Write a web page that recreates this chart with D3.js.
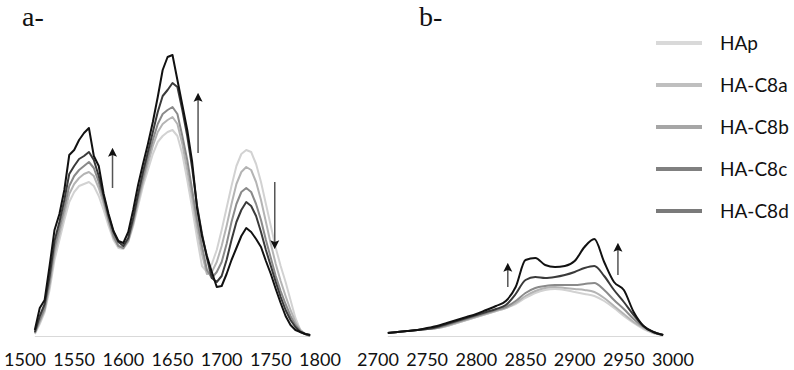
<!DOCTYPE html>
<html>
<head>
<meta charset="utf-8">
<script src="https://cdn.jsdelivr.net/npm/d3@7/dist/d3.min.js"></script>
<style>
  body { margin: 0; background: #fff; }
  svg { display: block; }
</style>
</head>
<body>
<div id="chart"></div>
<script>
// ---- data ----
const seriesNames = ["HAp", "HA-C8a", "HA-C8b", "HA-C8c", "HA-C8d"];

const tickLabelsA = [1500, 1550, 1600, 1650, 1700, 1750, 1800];
const tickLabelsB = [2700, 2750, 2800, 2850, 2900, 2950, 3000];

// panel a: 1510 - 1790 cm-1
const wavenumbersA = [
  1510, 1515, 1520, 1525, 1530, 1535, 1540, 1545, 1550, 1555, 1560, 1565,
  1570, 1575, 1580, 1585, 1590, 1595, 1600, 1605, 1610, 1615, 1620, 1625,
  1630, 1635, 1640, 1645, 1650, 1655, 1660, 1665, 1670, 1675, 1680, 1685,
  1690, 1695, 1700, 1705, 1710, 1715, 1720, 1725, 1730, 1735, 1740, 1745,
  1750, 1755, 1760, 1765, 1770, 1775, 1780, 1785, 1790
];
const hapA = [
  2, 12, 24, 46, 76, 96, 116, 134, 144, 150, 152, 154,
  150, 140, 126, 110, 96, 88, 87, 94, 110, 130, 150, 166,
  182, 194, 200, 204, 206, 200, 182, 156, 128, 98, 70, 64,
  72, 86, 106, 128, 150, 170, 182, 186, 184, 172, 154, 132,
  110, 88, 70, 54, 36, 18, 6, 2, 0
];
const c8aA = [
  3, 14, 26, 50, 82, 102, 122, 142, 152, 158, 162, 164,
  160, 148, 132, 114, 98, 90, 88, 95, 112, 134, 154, 172,
  190, 204, 212, 216, 219, 212, 192, 166, 138, 108, 82, 62,
  64, 74, 90, 110, 132, 152, 164, 169, 166, 154, 136, 114,
  92, 72, 55, 40, 26, 14, 6, 2, 0
];
const c8bA = [
  3, 16, 28, 54, 88, 108, 128, 150, 160, 166, 170, 174,
  168, 154, 136, 116, 100, 90, 88, 96, 114, 138, 158, 178,
  196, 212, 222, 226, 229, 222, 200, 176, 146, 116, 90, 66,
  58, 64, 74, 92, 114, 132, 144, 148, 144, 132, 116, 96,
  78, 60, 45, 32, 20, 11, 5, 2, 0
];
const c8cA = [
  4, 20, 32, 60, 95, 114, 136, 162, 170, 177, 180, 184,
  176, 160, 140, 120, 104, 94, 90, 98, 118, 142, 164, 184,
  204, 224, 240, 246, 253, 249, 226, 200, 168, 130, 102, 78,
  58, 54, 60, 76, 96, 114, 126, 134, 130, 120, 104, 86,
  70, 54, 39, 26, 16, 9, 4, 2, 1
];
const c8dA = [
  6, 28, 36, 70, 106, 122, 146, 181, 186, 196, 203, 208,
  180, 170, 142, 122, 105, 95, 93, 104, 126, 151, 172, 192,
  214, 239, 266, 279, 281, 256, 231, 206, 174, 128, 100, 80,
  64, 49, 50, 62, 76, 88, 100, 108, 104, 97, 89, 75,
  62, 47, 33, 20, 11, 6, 4, 2, 1
];

// panel b: 2710 - 2990 cm-1
const wavenumbersB = [
  2710, 2720, 2730, 2740, 2750, 2760, 2770, 2780, 2790, 2800,
  2810, 2820, 2830, 2840, 2850, 2860, 2870, 2880, 2890, 2900,
  2910, 2920, 2930, 2940, 2950, 2960, 2970, 2980, 2990
];
const hapB = [3, 4, 5, 6, 7, 8, 10, 13, 16, 19, 22, 25, 28, 32, 38, 43, 46, 47, 46, 44, 42, 40, 35, 28, 20, 13, 7, 3, 1];
const c8aB = [3, 4, 5, 6, 7, 8, 10, 13, 16, 19, 22, 25, 28, 33, 40, 45, 48, 49, 48, 47, 46, 44, 38, 30, 22, 14, 8, 3, 1];
const c8bB = [3, 4, 5, 6, 7, 8, 11, 14, 17, 20, 23, 26, 29, 35, 43, 48, 50, 51, 51, 51, 52, 53, 46, 36, 27, 17, 9, 4, 1];
const c8cB = [3, 4, 5, 6, 7, 9, 12, 15, 18, 21, 24, 27, 31, 42, 56, 59, 58, 59, 61, 64, 68, 70, 60, 46, 34, 21, 10, 4, 1];
const c8dB = [3, 4, 5, 6, 8, 10, 13, 16, 19, 22, 26, 30, 35, 49, 76, 78, 71, 69, 70, 75, 89, 97, 74, 54, 46, 24, 10, 4, 1];

// trend arrows: wavenumber, start and end intensity
const arrowsA = [
  { wn: 1589, from: 148, to: 189 },
  { wn: 1676, from: 183, to: 244 },
  { wn: 1754, from: 154, to: 86 }
];
const arrowsB = [
  { wn: 2832, from: 49, to: 74 },
  { wn: 2944, from: 61, to: 94 }
];

// ---- styles ----
const lineColors = ["#d2d2d2", "#b4b4b4", "#8a8a8a", "#3a3a3a", "#111111"];
const legendColors = ["#d9d9d9", "#bfbfbf", "#a6a6a6", "#808080", "#7a7a7a"];

class SpectraChart {
  constructor(options = {}) {
    this.width = options.width || 794;
    this.height = options.height || 370;
    this.baseY = 336;
    this.svg = d3.select("#chart").append("svg")
      .attr("width", this.width)
      .attr("height", this.height);

    this.y = d3.scaleLinear().domain([0, 300]).range([this.baseY, 36]);

    const defs = this.svg.append("defs");
    defs.append("marker")
      .attr("id", "head")
      .attr("viewBox", "0 0 10 10")
      .attr("refX", 2)
      .attr("refY", 5)
      .attr("markerUnits", "userSpaceOnUse")
      .attr("markerWidth", 9)
      .attr("markerHeight", 10)
      .attr("orient", "auto")
      .append("path")
      .attr("d", "M0,0 L10,5 L0,10 L2,5 z")
      .attr("fill", "#111");
  }

  /**
   * one spectral panel
   */
  drawPanel(wn, seriesList, ticks, range, label, labelX, arrows, curve) {
    const x = d3.scaleLinear().domain([ticks[0], ticks[ticks.length - 1]]).range(range);
    const g = this.svg.append("g");

    // baseline
    g.append("line")
      .attr("x1", x(wn[0]))
      .attr("x2", x(wn[wn.length - 1]))
      .attr("y1", this.baseY + 0.5)
      .attr("y2", this.baseY + 0.5)
      .attr("stroke", "#d9d9d9")
      .attr("stroke-width", 1.2);

    // tick labels
    g.selectAll(".tick")
      .data(ticks)
      .enter()
      .append("text")
      .attr("x", d => x(d))
      .attr("y", 366)
      .attr("text-anchor", "middle")
      .style("font-family", "Lato, 'Open Sans', sans-serif")
      .style("font-size", "18px")
      .attr("fill", "#111")
      .text(d => d);

    // spectra
    const line = d3.line()
      .x((d, i) => x(wn[i]))
      .y(d => this.y(d))
      .curve(curve);

    g.selectAll(".spectrum")
      .data(seriesList)
      .enter()
      .append("path")
      .attr("d", d => line(d))
      .attr("fill", "none")
      .attr("stroke", (d, i) => lineColors[i])
      .attr("stroke-width", 2)
      .attr("stroke-linejoin", "round");

    // arrows
    g.selectAll(".arrow")
      .data(arrows)
      .enter()
      .append("line")
      .attr("x1", d => x(d.wn))
      .attr("x2", d => x(d.wn))
      .attr("y1", d => this.y(d.from))
      .attr("y2", d => this.y(d.to) + (d.to > d.from ? 8 : -8))
      .attr("stroke", "#555")
      .attr("stroke-width", 1.5)
      .attr("marker-end", "url(#head)");

    // panel label
    this.svg.append("text")
      .attr("x", labelX)
      .attr("y", 26)
      .style("font-family", "'Liberation Serif', 'DejaVu Serif', serif")
      .style("font-size", "28px")
      .attr("fill", "#111")
      .text(label);
  }

  drawLegend() {
    const items = this.svg.append("g")
      .selectAll(".legend")
      .data(seriesNames)
      .enter()
      .append("g")
      .attr("transform", (d, i) => `translate(656, ${43 + i * 42})`);

    items.append("line")
      .attr("x1", 0)
      .attr("x2", 46)
      .attr("stroke", (d, i) => legendColors[i])
      .attr("stroke-width", 4);

    items.append("text")
      .attr("x", 64)
      .attr("y", 7)
      .style("font-family", "Lato, 'Open Sans', sans-serif")
      .style("font-size", "19px")
      .attr("fill", "#111")
      .text(d => d);
  }

  draw() {
    this.drawPanel(wavenumbersA, [hapA, c8aA, c8bA, c8cA, c8dA], tickLabelsA, [25, 320],
      "a-", 22, arrowsA, d3.curveLinear);
    this.drawPanel(wavenumbersB, [hapB, c8aB, c8bB, c8cB, c8dB], tickLabelsB, [378, 673],
      "b-", 419, arrowsB, d3.curveMonotoneX);
    this.drawLegend();
  }
}

new SpectraChart().draw();
</script>
</body>
</html>
